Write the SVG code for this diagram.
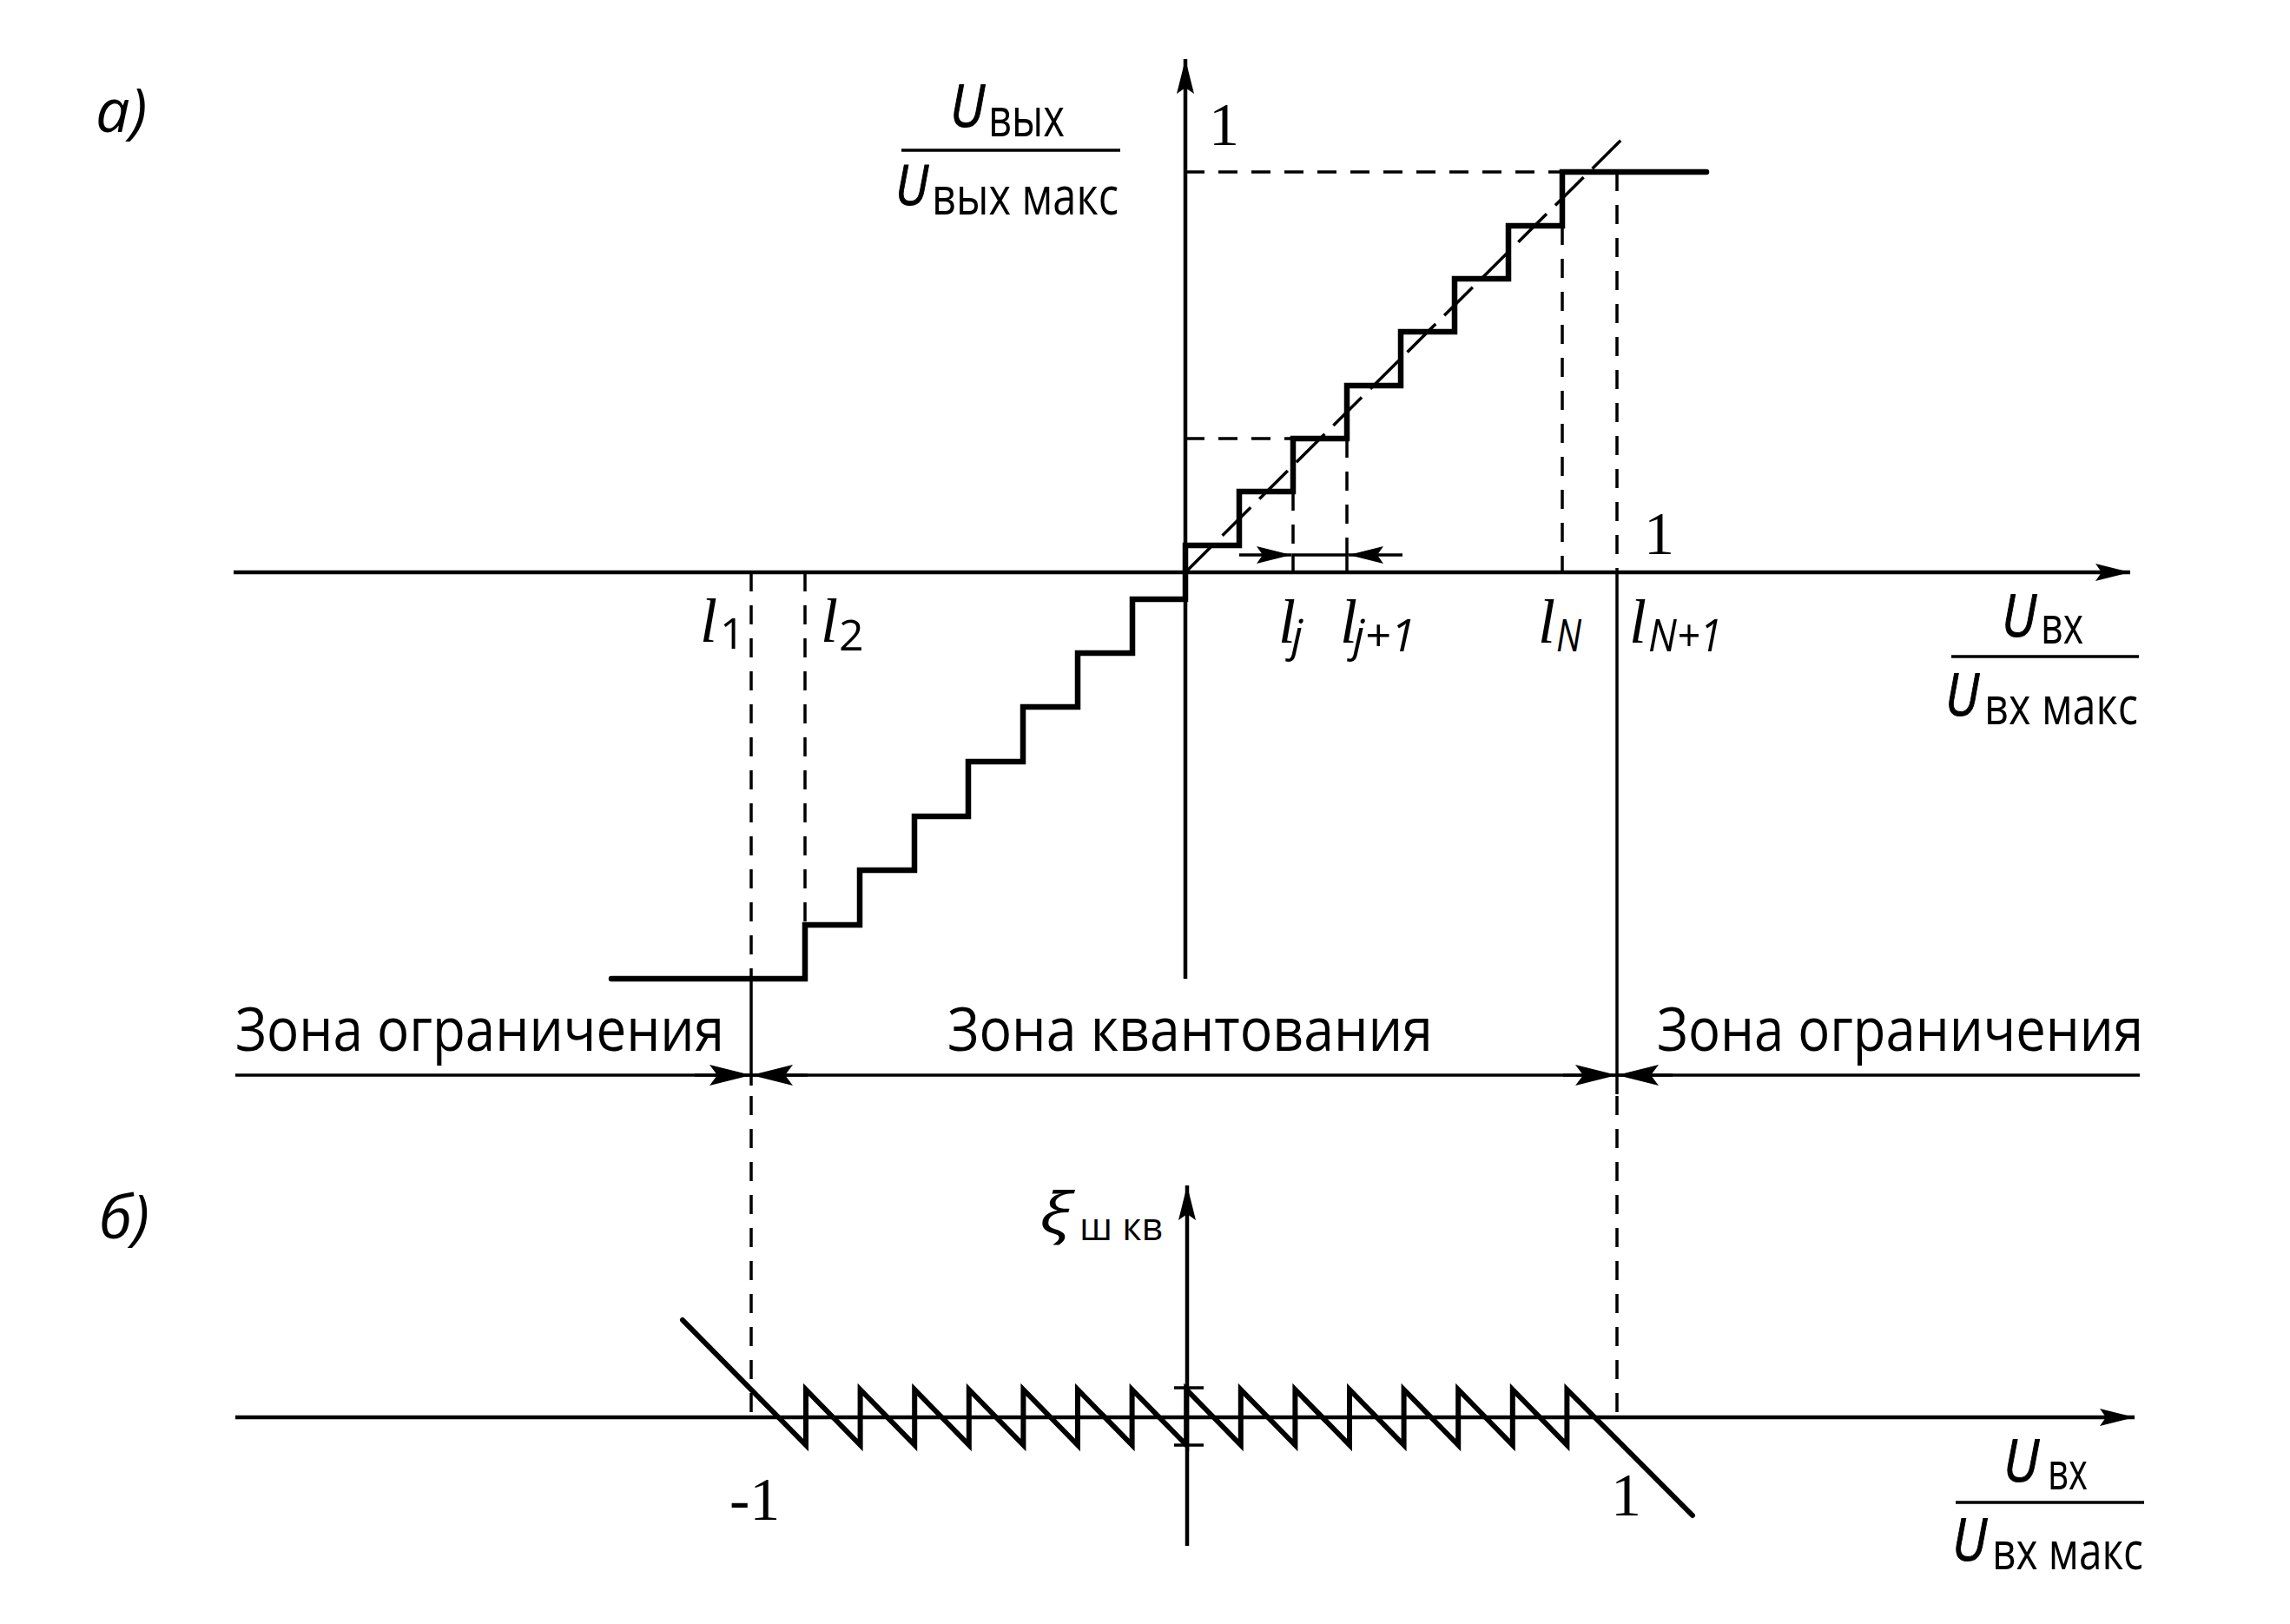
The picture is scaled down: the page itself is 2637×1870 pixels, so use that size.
<svg xmlns="http://www.w3.org/2000/svg" width="2637" height="1870" viewBox="0 0 2637 1870">
<style>
.bg{fill:#fff}
.ax{stroke:#000;stroke-width:4.5;fill:none}
.thick{stroke:#000;stroke-width:6.5;fill:none;stroke-linejoin:miter;stroke-linecap:round}
.saw{stroke:#000;stroke-width:6;fill:none;stroke-linejoin:miter;stroke-linecap:round}
.dash{stroke:#000;stroke-width:3.5;fill:none;stroke-dasharray:22 16}
.diag{stroke:#000;stroke-width:3.5;fill:none;stroke-dasharray:46 14}
.thin{stroke:#000;stroke-width:3.5;fill:none}
.t{font-family:"Open Sans","DejaVu Sans",sans-serif;fill:#000}
.i{font-family:"Open Sans","DejaVu Sans",sans-serif;font-style:italic;fill:#000}
.u{font-family:"Open Sans","DejaVu Sans",sans-serif;font-style:italic;fill:#000;stroke:#000;stroke-width:1}
.l{font-family:"Liberation Serif","DejaVu Serif",serif;font-style:italic;fill:#000}
.n{font-family:"Liberation Serif","Times New Roman",serif;fill:#000}
</style>
<defs>
<marker id="arr" markerUnits="userSpaceOnUse" viewBox="0 0 40 20" refX="40" refY="10" markerWidth="40" markerHeight="20" orient="auto">
<path d="M0,0 L40,10 L0,20 L7,10 Z" fill="#000"/>
</marker>
<marker id="zarr" markerUnits="userSpaceOnUse" viewBox="0 0 48 24" refX="48" refY="12" markerWidth="48" markerHeight="24" orient="auto">
<path d="M0,0 L48,12 L0,24 L9,12 Z" fill="#000"/>
</marker>
</defs>
<rect class="bg" x="0" y="0" width="2637" height="1870"/>

<g id="panel-a-label"><text class="i" x="110" y="152" font-size="70">а)</text></g>
<g id="panel-b-label"><text class="i" x="114" y="1426" font-size="70">б)</text></g>

<g id="connectors">
<!-- upper axes -->
<line class="ax" x1="269" y1="659" x2="2453" y2="659" marker-end="url(#arr)"/>
<line class="ax" x1="1365" y1="1127" x2="1365" y2="68" marker-end="url(#arr)"/>
<!-- dashed guides -->
<line class="dash" x1="1365" y1="198" x2="1799" y2="198"/>
<line class="dash" x1="1365" y1="505" x2="1489" y2="505"/>
<line class="dash" x1="1489" y1="566" x2="1489" y2="639"/>
<line class="dash" x1="1551" y1="505" x2="1551" y2="639"/>
<line class="dash" x1="1799" y1="260" x2="1799" y2="659"/>
<line class="dash" x1="1862" y1="198" x2="1862" y2="659"/>
<line class="thin" x1="1862" y1="659" x2="1862" y2="1260"/>
<line class="dash" x1="1862" y1="1262" x2="1862" y2="1632"/>
<line class="dash" x1="865" y1="659" x2="865" y2="1127"/>
<line class="thin" x1="865" y1="1127" x2="865" y2="1250"/>
<line class="dash" x1="865" y1="1262" x2="865" y2="1632"/>
<line class="dash" x1="927" y1="659" x2="927" y2="1065"/>
<!-- ideal line -->
<line class="diag" x1="1365" y1="659" x2="1875" y2="153"/>
<!-- staircase -->
<path class="thick" d="M704,1127 H927 V1065 H990 V1002 H1053 V940 H1115 V877 H1178 V814 H1241 V752 H1304 V690 H1365 V628 H1427 V566 H1489 V505 H1551 V444 H1613 V382 H1675 V321 H1737 V260 H1799 V198 H1965"/>
<!-- step width marker -->
<path class="thin" d="M1489,659 V639 H1551 V659"/>
<line class="thin" x1="1427" y1="639" x2="1487" y2="639" marker-end="url(#arr)"/>
<line class="thin" x1="1615" y1="639" x2="1553" y2="639" marker-end="url(#arr)"/>
<!-- zone line -->
<line class="thin" x1="271" y1="1238" x2="2464" y2="1238"/>
<line class="thin" x1="800" y1="1238" x2="865" y2="1238" marker-end="url(#zarr)"/>
<line class="thin" x1="930" y1="1238" x2="865" y2="1238" marker-end="url(#zarr)"/>
<line class="thin" x1="1800" y1="1238" x2="1862" y2="1238" marker-end="url(#zarr)"/>
<line class="thin" x1="1926" y1="1238" x2="1862" y2="1238" marker-end="url(#zarr)"/>
<!-- lower axes -->
<line class="ax" x1="271" y1="1632" x2="2458" y2="1632" marker-end="url(#arr)"/>
<line class="ax" x1="1367" y1="1780" x2="1367" y2="1365" marker-end="url(#arr)"/>
<line class="thin" x1="1352" y1="1598" x2="1386" y2="1598"/>
<line class="thin" x1="1352" y1="1664" x2="1386" y2="1664"/>
<!-- sawtooth -->
<path class="saw" d="M786,1520 L928,1664 V1600 L990.6,1664 V1600 L1053.2,1664 V1600 L1115.8,1664 V1600 L1178.4,1664 V1600 L1241,1664 V1600 L1303.6,1664 V1600 L1366.2,1664 V1600 L1428.8,1664 V1600 L1491.4,1664 V1600 L1554,1664 V1600 L1616.6,1664 V1600 L1679.2,1664 V1600 L1741.8,1664 V1600 L1804.4,1664 V1600 L1949,1745"/>
</g>

<g id="y-label-top">
<text class="u" x="1094" y="146" font-size="68" textLength="40" lengthAdjust="spacingAndGlyphs">U</text>
<text class="t" x="1138" y="157" font-size="62" textLength="88" lengthAdjust="spacingAndGlyphs">вых</text>
<line class="thin" x1="1038" y1="173" x2="1290" y2="173"/>
<text class="u" x="1031" y="236" font-size="64" textLength="38" lengthAdjust="spacingAndGlyphs">U</text>
<text class="t" x="1073" y="247" font-size="60" textLength="215" lengthAdjust="spacingAndGlyphs">вых макс</text>
</g>

<g id="tick-labels">
<text class="n" x="1392" y="167" font-size="70">1</text>
<text class="n" x="1893" y="638" font-size="70">1</text>
<text class="n" x="840" y="1750" font-size="70">-1</text>
<text class="n" x="1855" y="1745" font-size="70">1</text>
</g>

<g id="level-labels">
<text class="l" x="806" y="739" font-size="72">l</text><text class="t" x="829" y="747" font-size="50">1</text>
<text class="l" x="945" y="739" font-size="72">l</text><text class="t" x="966" y="749" font-size="50">2</text>
<text class="l" x="1472" y="740" font-size="72">l</text><text class="i" x="1487" y="750" font-size="52">j</text>
<text class="l" x="1543" y="740" font-size="72">l</text><text class="i" x="1558" y="750" font-size="52" textLength="72" lengthAdjust="spacingAndGlyphs">j+1</text>
<text class="l" x="1771" y="740" font-size="72">l</text><text class="i" x="1792" y="750" font-size="52" textLength="29" lengthAdjust="spacingAndGlyphs">N</text>
<text class="l" x="1876" y="740" font-size="72">l</text><text class="i" x="1898" y="750" font-size="52" textLength="85" lengthAdjust="spacingAndGlyphs">N+1</text>
</g>

<g id="x-label-top">
<text class="u" x="2305" y="733" font-size="68" textLength="40" lengthAdjust="spacingAndGlyphs">U</text>
<text class="t" x="2350" y="741" font-size="60" textLength="49" lengthAdjust="spacingAndGlyphs">вх</text>
<line class="thin" x1="2247" y1="756" x2="2463" y2="756"/>
<text class="u" x="2240" y="824" font-size="68" textLength="39" lengthAdjust="spacingAndGlyphs">U</text>
<text class="t" x="2285" y="834" font-size="60" textLength="177" lengthAdjust="spacingAndGlyphs">вх макс</text>
</g>

<g id="zones">
<text class="t" x="271" y="1210" font-size="70" textLength="563" lengthAdjust="spacingAndGlyphs">Зона ограничения</text>
<text class="t" x="1091" y="1210" font-size="70" textLength="559" lengthAdjust="spacingAndGlyphs">Зона квантования</text>
<text class="t" x="1908" y="1210" font-size="70" textLength="560" lengthAdjust="spacingAndGlyphs">Зона ограничения</text>
</g>

<g id="noise-label">
<text class="i" x="1197" y="1420" font-size="66" textLength="37" lengthAdjust="spacingAndGlyphs">ξ</text>
<text class="t" x="1243" y="1428" font-size="44" textLength="96" lengthAdjust="spacingAndGlyphs">ш кв</text>
</g>

<g id="x-label-bottom">
<text class="u" x="2307" y="1706" font-size="68" textLength="41" lengthAdjust="spacingAndGlyphs">U</text>
<text class="t" x="2358" y="1715" font-size="60" textLength="46" lengthAdjust="spacingAndGlyphs">вх</text>
<line class="thin" x1="2252" y1="1730" x2="2469" y2="1730"/>
<text class="u" x="2248" y="1797" font-size="68" textLength="40" lengthAdjust="spacingAndGlyphs">U</text>
<text class="t" x="2294" y="1807" font-size="60" textLength="174" lengthAdjust="spacingAndGlyphs">вх макс</text>
</g>
</svg>
